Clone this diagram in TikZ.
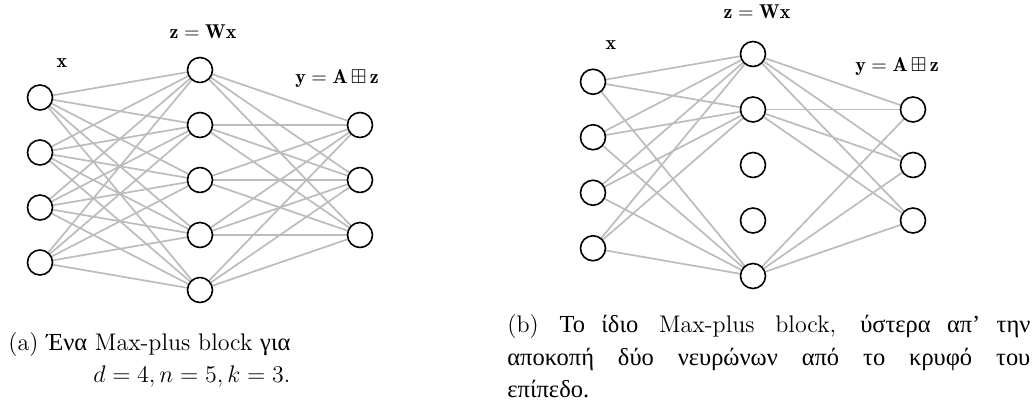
\documentclass[tikz,border=0pt]{standalone}
\usepackage{amssymb}
\usepackage{fontspec}
\newfontfamily\grfont{Liberation Serif}[Scale=1.02]
\usetikzlibrary{backgrounds}
\definecolor{edgegray}{RGB}{188,188,188}
\begin{document}
\begin{tikzpicture}[x=0.5pt,y=-0.5pt,
  neuron/.style={circle,draw=black,line width=0.8pt,minimum size=12.5pt,inner sep=0pt,fill=white},
  conn/.style={draw=edgegray,line width=0.85pt},
  lbl/.style={font=\fontsize{10}{12}\selectfont,inner sep=0pt},
  captext/.style={font=\fontsize{12}{16}\selectfont,inner sep=0pt,anchor=base west}]
\useasboundingbox (0,0) rectangle (1035,404);

% ---------- (a) ----------
\foreach \i in {1,...,4} \node[neuron] (ai\i) at (40,{97.5+55*(\i-1)}) {};
\foreach \j in {1,...,5} \node[neuron] (ah\j) at (200,{70+55*(\j-1)}) {};
\foreach \k in {1,...,3} \node[neuron] (ao\k) at (360,{125+55*(\k-1)}) {};
\begin{scope}[on background layer]
\foreach \i in {1,...,4} \foreach \j in {1,...,5} \draw[conn] (ai\i) -- (ah\j);
\foreach \j in {1,...,5} \foreach \k in {1,...,3} \draw[conn] (ah\j) -- (ao\k);
\end{scope}
\node[lbl] (alx) at (62,63) {$\mathbf{x}$};
\node[lbl] (alz) at (203,32) {$\mathbf{z}=\mathbf{W}\mathbf{x}$};
\node[lbl] (aly) at (337,79) {$\mathbf{y}=\mathbf{A}\,{\boxplus}\,\mathbf{z}$};

% ---------- (b) ----------
\foreach \i in {1,...,4} \node[neuron] (bi\i) at (593,{81.75+55.5*(\i-1)}) {};
\foreach \j in {1,...,5} \node[neuron] (bh\j) at (753,{54+55.5*(\j-1)}) {};
\foreach \k in {1,...,3} \node[neuron] (bo\k) at (913,{109.5+55.5*(\k-1)}) {};
\begin{scope}[on background layer]
\foreach \i in {1,...,4} \foreach \j in {1,2,5} \draw[conn] (bi\i) -- (bh\j);
\foreach \j in {1,2,5} \foreach \k in {1,...,3} \draw[conn] (bh\j) -- (bo\k);
\end{scope}
\node[lbl] (blx) at (611,45) {$\mathbf{x}$};
\node[lbl] (blz) at (757,12) {$\mathbf{z}=\mathbf{W}\mathbf{x}$};
\node[lbl] (bly) at (897,67) {$\mathbf{y}=\mathbf{A}\,{\boxplus}\,\mathbf{z}$};

% ---------- captions ----------
\node[captext] (capa1) at (8,350) {(a) {\grfont Ένα} Max-plus block {\grfont για}};
\node[captext] (capa2) at (93,382) {$d=4, n=5, k=3$.};
\node[captext] (capb1) at (507,332) {\hbox to 261.5pt{(b) {\grfont Το ίδιο} Max-plus block, {\grfont ύστερα απ’ την}}};
\node[captext] (capb2) at (507,365) {\hbox to 261.5pt{\grfont αποκοπή δύο νευρώνων από το κρυφό του}};
\node[captext] (capb3) at (507,397) {{\grfont επίπεδο.}};
\end{tikzpicture}
\end{document}
